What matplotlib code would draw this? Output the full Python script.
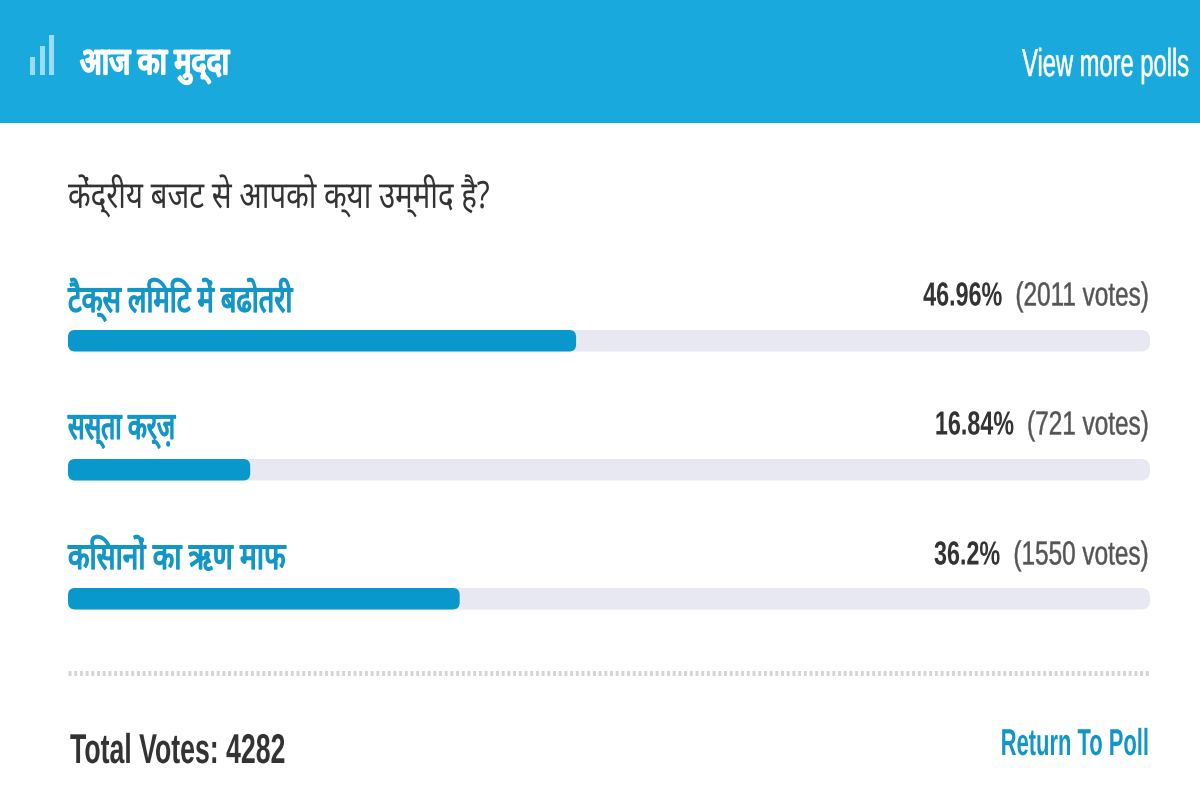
import matplotlib
matplotlib.use('Agg')
import matplotlib.pyplot as plt
from matplotlib.patches import Rectangle, FancyBboxPatch
from matplotlib.patheffects import AbstractPathEffect
from matplotlib.transforms import Affine2D, Bbox

header_title = 'आज का मुद्दा'
header_link = 'View more polls'
question = 'केंद्रीय बजट से आपको क्या उम्मीद है?'
options = ['टैक्स लिमिट में बढोतरी', 'सस्ता कर्ज़', 'किसानों का ऋण माफ']
percents = [46.96, 16.84, 36.2]
votes = [2011, 721, 1550]
total_votes = 4282
header_bars = [18, 29, 40]

BLUE = '#1aa9dc'
BAR = '#0998cb'
TRACK = '#e8e8f3'
DARK = '#333333'
LINK = '#1296c8'
DEVA = ['Noto Sans', 'DejaVu Sans']
LATIN = ['Liberation Sans', 'DejaVu Sans']


class Squeeze(AbstractPathEffect):
    """Narrow a text horizontally about its anchor, optionally emboldening it."""

    def __init__(self, anchor, sx, stroke=0):
        super().__init__()
        self.anchor, self.sx, self.stroke = anchor, sx, stroke

    def draw_path(self, renderer, gc, tpath, affine, rgbFace=None):
        a = affine + Affine2D().translate(-self.anchor, 0).scale(self.sx, 1).translate(self.anchor, 0)
        gc0 = renderer.new_gc()
        gc0.copy_properties(gc)
        if self.stroke and rgbFace is not None:
            gc0.set_foreground(rgbFace)
            gc0.set_linewidth(self.stroke)
        else:
            gc0.set_linewidth(0)
        renderer.draw_path(gc0, tpath, a, rgbFace)
        gc0.restore()


fig = plt.figure(figsize=(12, 8.1), dpi=100)
bg = fig.add_axes([0, 0, 1, 1])
bg.set_xlim(0, 1200)
bg.set_ylim(810, 0)
bg.axis('off')


def label(x, y, s, size, color, sx, ha='left', stroke=0, family=LATIN, weight='normal'):
    t = bg.text(x, y, s, fontsize=size, color=color, ha=ha, va='center', family=family, fontweight=weight)
    t.set_path_effects([Squeeze(x, sx, stroke)])
    full_extent = t.get_window_extent

    def narrow_extent(renderer=None, dpi=None):
        b = full_extent(renderer, dpi)
        return Bbox.from_extents(x + (b.x0 - x) * sx, b.y0, x + (b.x1 - x) * sx, b.y1)

    t.get_window_extent = narrow_extent
    return t


def pill(x, y, w, h, r, color):
    bg.add_patch(FancyBboxPatch((x + r, y + r), w - 2 * r, h - 2 * r, boxstyle=f'round,pad={r},rounding_size={r}',
                                fc=color, ec='none', lw=0))


bg.add_patch(Rectangle((0, 0), 1200, 123, color=BLUE, lw=0))
for i, h in enumerate(header_bars):
    bg.add_patch(Rectangle((30 + i * 9.5, 75 - h), 5, h, color='#9adcf4', lw=0))
label(80, 65, header_title, 27, 'white', 0.76, stroke=1.6, family=DEVA)
label(1189, 66, header_link, 28, 'white', 0.61, ha='right', stroke=0.4)
label(68, 196, question, 27, DARK, 0.785, family=DEVA)

tops = [330, 459, 588]
lab = [300, 429, 559]
squeeze = [0.725, 0.655, 0.745]
x0, w = 68, 1082
fig.canvas.draw()
for y, ly, o, p, v, sq in zip(tops, lab, options, percents, votes, squeeze):
    pill(x0, y, w, 21.5, 9, TRACK)
    pill(x0, y, w * p / 100, 21.5, 7, BAR)
    label(x0, ly, o, 27, LINK, sq, stroke=1.0, family=DEVA)
    t = label(1149, ly - 3, f'({v} votes)', 24, '#555555', 0.73, ha='right', stroke=0.3)
    left = t.get_window_extent(fig.canvas.get_renderer()).x0
    label(left - 13, ly - 3, f'{p:g}%', 24, DARK, 0.70, ha='right', weight='bold')

bg.plot([68, 1150], [673, 673], color='#d6d6d6', lw=3.6, ls=(0, (0.6, 0.54)))
label(70, 752, f'Total Votes: {total_votes}', 30, DARK, 0.64, weight='bold')
label(1149, 745, 'Return To Poll', 27, LINK, 0.585, ha='right', weight='bold')
fig.savefig('out.png', dpi=100)
